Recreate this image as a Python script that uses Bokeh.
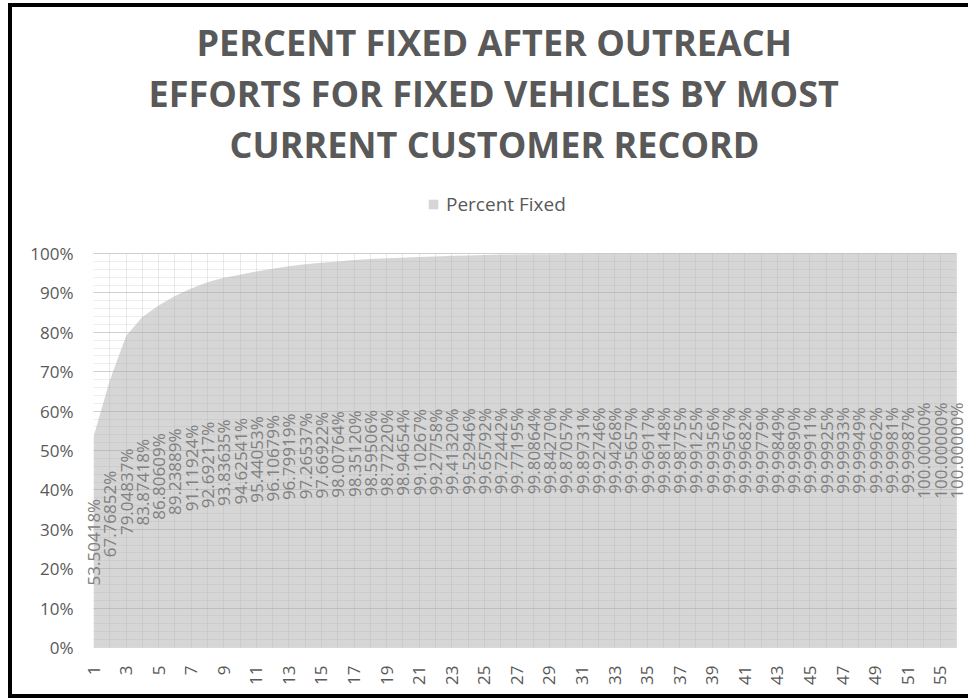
import math
from bokeh.plotting import figure
from bokeh.models import (Legend, LegendItem, FixedTicker, SingleIntervalTicker,
                          NumeralTickFormatter, ColumnDataSource, Range1d, Title)
from bokeh.core.properties import value
from bokeh.embed import file_html
from bokeh.resources import INLINE

categories = [str(i) for i in range(1, 53)] + ["55", "56"]
percent_fixed = [
    53.50418, 67.76852, 79.04837, 83.87418, 86.80609, 89.23889, 91.11924, 92.69217,
    93.83635, 94.62541, 95.44053, 96.10679, 96.79919, 97.26537, 97.66922, 98.00764,
    98.35120, 98.59506, 98.77220, 98.94654, 99.10267, 99.27758, 99.41320, 99.52946,
    99.65792, 99.72442, 99.77195, 99.80864, 99.84270, 99.87057, 99.89731, 99.92746,
    99.94268, 99.95657, 99.96917, 99.98148, 99.98775, 99.99125, 99.99356, 99.99567,
    99.99682, 99.99779, 99.99849, 99.99890, 99.99911, 99.99925, 99.99933, 99.99949,
    99.99962, 99.99981, 99.99987, 100.00000, 100.00000, 100.00000,
]
title_lines = ["PERCENT FIXED AFTER OUTREACH",
               "EFFORTS FOR FIXED VEHICLES BY MOST",
               "CURRENT CUSTOMER RECORD"]
series_name = "Percent Fixed"

pos = list(range(1, len(categories) + 1))
frac = [v / 100.0 for v in percent_fixed]
src = ColumnDataSource(dict(
    x=pos,
    y=frac,
    ymid=[f / 2.0 for f in frac],
    lbl=[f"{v:.5f}%" for v in percent_fixed],
))

FONT = "Open Sans"
GREY = "#595959"

# frame extends above 100% (room for legend) and a little past the last category
Y_TOP = 1.193
X_END = len(pos) + 0.49

p = figure(width=966, height=695, output_backend="svg", toolbar_location=None,
           x_range=Range1d(1, X_END), y_range=Range1d(0, Y_TOP),
           title_location=None,
           min_border_left=81, min_border_right=14, min_border_top=162,
           min_border_bottom=63)
p.styles = {"border": "4px solid #000000", "margin-left": "8px", "margin-top": "3px",
            "padding-top": "8px", "background-color": "white"}

area = p.varea(x="x", y1=0, y2="y", source=src, fill_color="#d6d6d6")

labels = p.text(x="x", y="ymid", text="lbl", source=src, angle=math.pi / 2,
                text_align="center", text_baseline="middle",
                text_font=value(FONT), text_font_size="17px", text_color="#808080")
labels.level = "overlay"

p.xaxis.ticker = FixedTicker(ticks=pos[0::2], minor_ticks=pos[1::2])
p.xaxis.major_label_overrides = {x: c for x, c in zip(pos, categories)}
p.xaxis.major_label_orientation = math.pi / 2
p.xaxis.bounds = (1, len(pos))
p.xaxis.major_label_text_font = FONT
p.xaxis.major_label_text_font_size = "17px"
p.xaxis.major_label_text_color = GREY
p.xaxis.major_tick_line_color = None
p.xaxis.minor_tick_line_color = None
p.xaxis.axis_line_color = "#d9d9d9"
p.xaxis.major_label_standoff = 12

p.yaxis.ticker = SingleIntervalTicker(interval=0.1, num_minor_ticks=5)
p.yaxis.formatter = NumeralTickFormatter(format="0%")
p.yaxis.bounds = (0, 1)
p.yaxis.major_label_text_font = FONT
p.yaxis.major_label_text_font_size = "17px"
p.yaxis.major_label_text_color = GREY
p.yaxis.major_tick_line_color = None
p.yaxis.minor_tick_line_color = None
p.yaxis.axis_line_color = None
p.yaxis.major_label_standoff = 14

p.xgrid.grid_line_color = "#aaaaaa"
p.xgrid.grid_line_alpha = 0.25
p.xgrid.minor_grid_line_color = "#aaaaaa"
p.xgrid.minor_grid_line_alpha = 0.25
p.xgrid.cross_bounds = (0, 1)
p.ygrid.grid_line_color = "#aaaaaa"
p.ygrid.grid_line_alpha = 0.45
p.ygrid.minor_grid_line_color = "#aaaaaa"
p.ygrid.minor_grid_line_alpha = 0.2
p.ygrid.bounds = (0, 1)
p.ygrid.cross_bounds = (1, len(pos))
p.xgrid.level = "annotation"
p.ygrid.level = "annotation"

p.outline_line_color = None
p.background_fill_color = "white"
p.border_fill_color = "white"

legend = Legend(items=[LegendItem(label=series_name, renderers=[area])],
                orientation="horizontal", location=(334, 430),
                border_line_color=None, background_fill_alpha=0,
                label_text_font=FONT, label_text_font_size="19px",
                label_text_color=GREY, glyph_width=12, glyph_height=12,
                label_standoff=7, padding=4, margin=0)
p.add_layout(legend, "center")

# small spacer between the title block and the plot frame
p.add_layout(Title(text=" ", text_font_size="1px", standoff=6), "above")

title_offsets = [103, 55, 136]
for line, off in reversed(list(zip(title_lines, title_offsets))):
    t = Title(text=line, align="left", offset=off, text_font=FONT,
              text_font_size="36px", text_font_style="bold", text_color=GREY,
              standoff=0)
    p.add_layout(t, "above")

open("out.html", "w").write(file_html(p, INLINE))
